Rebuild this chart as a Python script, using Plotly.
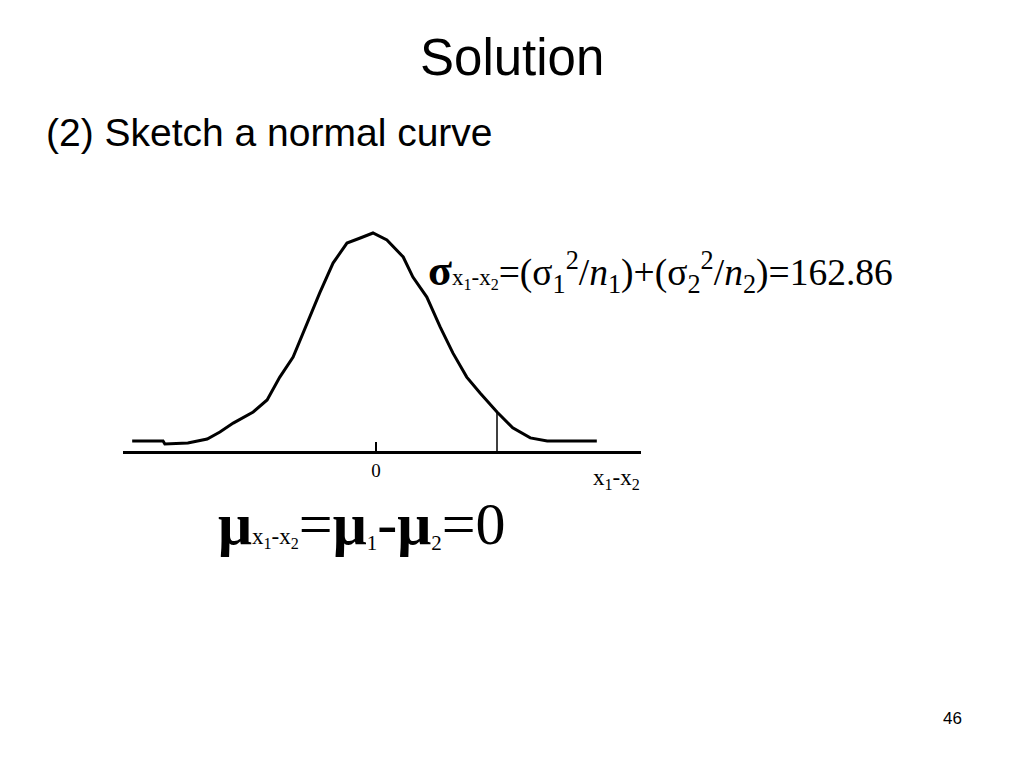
import numpy as np
import plotly.graph_objects as go

# ---- data (x in sigma-like units, y relative height, peak = 1) ----
curve_x = [-4.03, -3.52, -3.49, -3.11, -2.79, -2.58, -2.36, -2.03, -1.80, -1.59, -1.37,
           -1.14, -0.93, -0.71, -0.48, -0.26, -0.05, 0.18, 0.45, 0.61, 0.84, 1.06, 1.27,
           1.50, 1.72, 2.00, 2.26, 2.55, 2.83, 3.65]
curve_y = [0.046, 0.046, 0.032, 0.037, 0.055, 0.087, 0.128, 0.179, 0.234, 0.339, 0.431,
           0.587, 0.725, 0.862, 0.954, 0.977, 1.000, 0.968, 0.890, 0.798, 0.706, 0.569, 0.450,
           0.339, 0.266, 0.179, 0.106, 0.060, 0.046, 0.046]
marker_x = 2.0
tick_vals = [0]
tick_text = ["0"]
axis_label = "x<sub>1</sub>-x<sub>2</sub>"
title_text = "Solution"
subtitle_text = "(2) Sketch a normal curve"
page_number = "46"
sigma_value = "162.86"

W, H = 1024, 768
OFF = 8  # page body margin
L, R, T, B = 123 - OFF, 641 - OFF, 220 - OFF, 451 - OFF   # plot area in pixels


def px(x):
    return (x - OFF - L) / (R - L)


def py(y):
    return (B - (y - OFF)) / (B - T)


fig = go.Figure()
fig.add_trace(go.Scatter(x=curve_x, y=curve_y, mode="lines",
                         line=dict(color="black", width=3), cliponaxis=False,
                         hoverinfo="skip", showlegend=False))
marker_top = float(np.interp(marker_x, curve_x, curve_y))
fig.add_trace(go.Scatter(x=[marker_x, marker_x], y=[0, marker_top], mode="lines",
                         line=dict(color="black", width=1.5), cliponaxis=False,
                         hoverinfo="skip", showlegend=False))

serif = "Liberation Serif"
sans = "Liberation Sans"

sigma_text = ('<span style="font-size:44px"><b>σ</b></span>'
              '<span style="font-size:23px">x<sub>1</sub>-x<sub>2</sub></span>'
              '=(σ<sub>1</sub><sup>2</sup>/<i>n</i><sub>1</sub>)'
              '+(σ<sub>2</sub><sup>2</sup>/<i>n</i><sub>2</sub>)=' + sigma_value)
mu_text = ('<b>μ</b><span style="font-size:23px">x<sub>1</sub>-x<sub>2</sub></span>'
           '=<b>μ</b><span style="font-size:30px"><sub>1</sub></span>-<b>μ</b>'
           '<span style="font-size:30px"><sub>2</sub></span>=0')

annotations = [
    dict(text=title_text, x=px(512), y=py(57), xanchor="center", yanchor="middle",
         font=dict(family=sans, size=51, color="black")),
    dict(text=subtitle_text, x=px(44), y=py(132), xanchor="left", yanchor="middle",
         font=dict(family=sans, size=39, color="black")),
    dict(text=page_number, x=px(952), y=py(718), xanchor="center", yanchor="middle",
         font=dict(family=sans, size=17, color="black")),
    dict(text=sigma_text, x=px(426), y=py(272), xanchor="left", yanchor="middle",
         font=dict(family=serif, size=37.5, color="black")),
    dict(text=mu_text, x=px(216), y=py(524), xanchor="left", yanchor="middle",
         font=dict(family=serif, size=60, color="black")),
    dict(text=axis_label, x=px(616), y=py(479), xanchor="center", yanchor="middle",
         font=dict(family=serif, size=23, color="black")),
]
for a in annotations:
    a.update(xref="paper", yref="paper", showarrow=False)

fig.update_layout(
    width=W, height=H,
    margin=dict(l=L, r=W - R, t=T, b=H - B, pad=0),
    paper_bgcolor="white", plot_bgcolor="white",
    showlegend=False,
    annotations=annotations,
    xaxis=dict(range=[-253 / 60.5, 265 / 60.5], showgrid=False, zeroline=False,
               showline=True, linecolor="black", linewidth=3,
               tickvals=tick_vals, ticktext=tick_text, ticks="inside", ticklen=9,
               tickwidth=1.5, tickcolor="black",
               tickfont=dict(family=serif, size=19, color="black"),
               fixedrange=True),
    yaxis=dict(range=[0, (B - T) / 218], visible=False, fixedrange=True),
)

fig.write_html("out.html")
